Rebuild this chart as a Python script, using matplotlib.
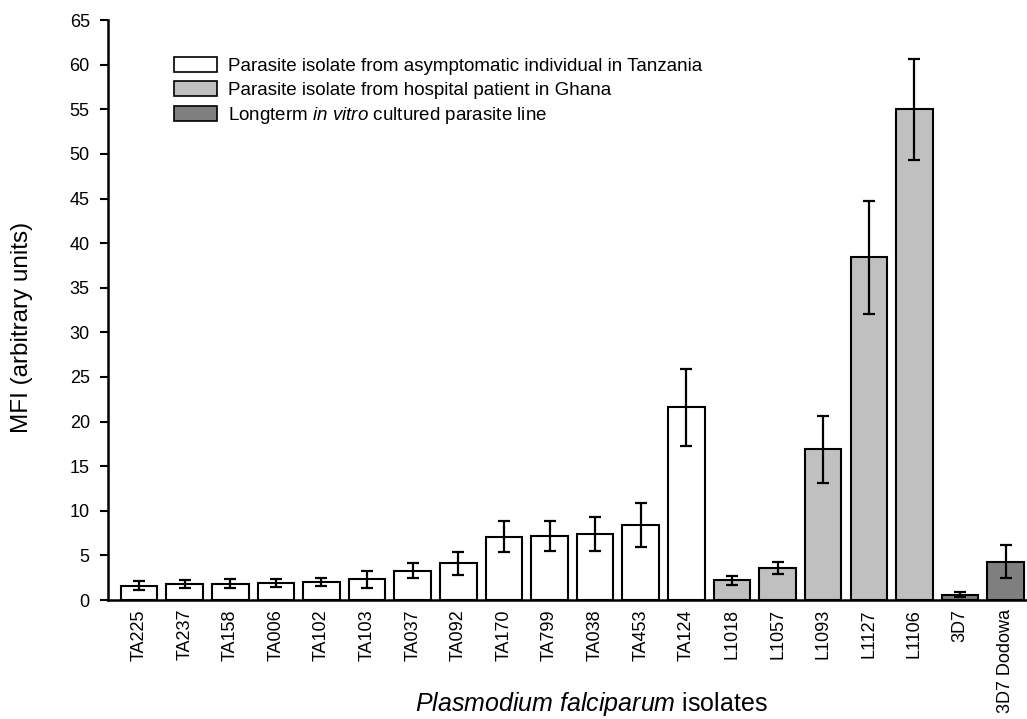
"""
MFI of Plasmodium falciparum isolates - bar chart with error bars
"""

import matplotlib
matplotlib.use('Agg')
import matplotlib.pyplot as plt
from matplotlib.patches import Patch

plt.rcParams['font.family'] = ['Liberation Sans', 'DejaVu Sans']
plt.rcParams['mathtext.fontset'] = 'custom'
plt.rcParams['mathtext.rm'] = 'Liberation Sans'
plt.rcParams['mathtext.it'] = 'Liberation Sans:italic'

# isolates, grouped by origin
isolates = ['TA225', 'TA237', 'TA158', 'TA006', 'TA102', 'TA103', 'TA037',
            'TA092', 'TA170', 'TA799', 'TA038', 'TA453', 'TA124',
            'L1018', 'L1057', 'L1093', 'L1127', 'L1106',
            '3D7', '3D7 Dodowa']
mfi = [1.6, 1.8, 1.85, 1.9, 2.05, 2.3, 3.3,
       4.1, 7.1, 7.2, 7.4, 8.4, 21.6,
       2.2, 3.6, 16.9, 38.4, 55.0,
       0.6, 4.3]
err = [0.5, 0.45, 0.45, 0.45, 0.45, 0.9, 0.85,
       1.3, 1.7, 1.7, 1.9, 2.5, 4.3,
       0.5, 0.7, 3.75, 6.3, 5.65,
       0.25, 1.85]
group = ['TZ'] * 13 + ['GH'] * 5 + ['LAB'] * 2

group_colors = {'TZ': '#ffffff', 'GH': '#c0c0c0', 'LAB': '#7f7f7f'}
group_labels = {
    'TZ': 'Parasite isolate from asymptomatic individual in Tanzania',
    'GH': 'Parasite isolate from hospital patient in Ghana',
    'LAB': r'Longterm $\it{in\ vitro}$ cultured parasite line',
}


def main():
    fig = plt.figure(figsize=(10.27, 7.19), dpi=100)
    ax = fig.add_axes([0.105, 0.1655, 0.895, 0.8065])

    x = list(range(len(isolates)))
    colors = [group_colors[g] for g in group]
    ax.bar(x, mfi, width=0.8, color=colors, edgecolor='black', linewidth=1.5,
           zorder=2)
    ax.errorbar(x, mfi, yerr=err, fmt='none', ecolor='black', elinewidth=1.6,
                capsize=4, capthick=1.6, zorder=3)

    ax.set_xlim(-0.685, 19.47)
    ax.set_ylim(0, 65)
    ax.set_yticks(range(0, 66, 5))
    ax.set_xticks(x)
    ax.set_xticklabels(isolates, rotation=90, fontsize=13)
    ax.tick_params(axis='x', length=0, pad=6.5)
    ax.tick_params(axis='y', labelsize=13, length=6, width=1.5, pad=7,
                   direction='out')
    for s in ['top', 'right']:
        ax.spines[s].set_visible(False)
    for s in ['left', 'bottom']:
        ax.spines[s].set_linewidth(1.8)

    fig.text(22 / 1027, 0.545, 'MFI (arbitrary units)', fontsize=17.5,
             rotation=90, ha='center', va='center')
    fig.text(0.5755, 0.011, r'$\it{Plasmodium\ falciparum}$ isolates',
             fontsize=18, ha='center', va='baseline')

    handles = [Patch(facecolor=group_colors[g], edgecolor='black', linewidth=1.2,
                     label=group_labels[g]) for g in ['TZ', 'GH', 'LAB']]
    fig.legend(handles=handles, loc='upper left', bbox_to_anchor=(0.153, 0.944),
               frameon=False, fontsize=13.5, handlelength=2.3,
               handleheight=0.85, handletextpad=0.6, labelspacing=0.32)

    fig.savefig('out.png', dpi=100)
    plt.close(fig)


if __name__ == "__main__":
    main()
